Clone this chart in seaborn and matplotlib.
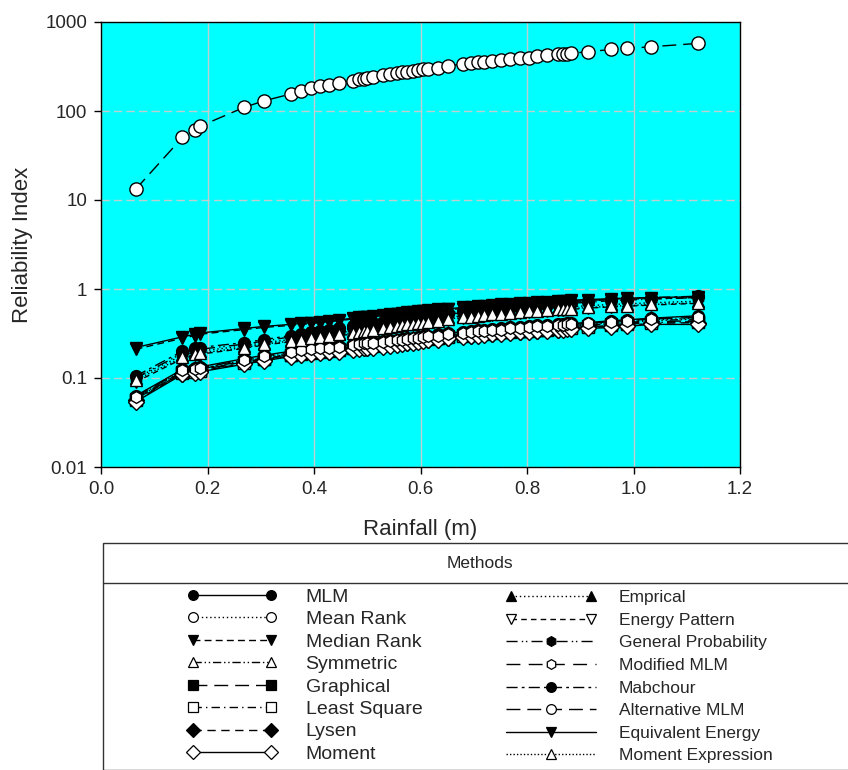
import matplotlib
matplotlib.use("Agg")
import matplotlib.pyplot as plt
from matplotlib.lines import Line2D
from matplotlib.patches import Rectangle
from matplotlib.legend_handler import HandlerLine2D
from matplotlib.ticker import FixedLocator, FixedFormatter, NullLocator
import seaborn as sns
import pandas as pd

rainfall = [0.065, 0.153, 0.177, 0.185, 0.269, 0.306, 0.356, 0.375, 0.395, 0.412,
            0.428, 0.447, 0.473, 0.485, 0.493, 0.500, 0.510, 0.530, 0.542, 0.556,
            0.565, 0.575, 0.585, 0.595, 0.605, 0.615, 0.632, 0.652, 0.679, 0.695,
            0.708, 0.720, 0.735, 0.752, 0.768, 0.787, 0.803, 0.819, 0.838, 0.858,
            0.868, 0.876, 0.882, 0.915, 0.958, 0.987, 1.033, 1.121]

mlm = [0.063, 0.125, 0.13, 0.133, 0.165, 0.18, 0.20, 0.21, 0.215, 0.22, 0.225, 0.23, 0.24, 0.245, 0.25, 0.25,
       0.255, 0.26, 0.265, 0.27, 0.275, 0.28, 0.285, 0.29, 0.295, 0.30, 0.31, 0.32, 0.33, 0.34, 0.345, 0.35,
       0.355, 0.36, 0.37, 0.375, 0.38, 0.39, 0.395, 0.40, 0.405, 0.41, 0.41, 0.42, 0.44, 0.45, 0.47, 0.50]
mean_rank = [0.060, 0.12, 0.125, 0.128, 0.158, 0.172, 0.19, 0.20, 0.205, 0.21, 0.215, 0.22, 0.23, 0.235, 0.24, 0.24,
             0.245, 0.25, 0.255, 0.26, 0.265, 0.27, 0.275, 0.28, 0.285, 0.29, 0.295, 0.305, 0.315, 0.32, 0.325, 0.33,
             0.335, 0.345, 0.35, 0.355, 0.36, 0.37, 0.375, 0.38, 0.385, 0.39, 0.39, 0.40, 0.42, 0.43, 0.45, 0.47]
median_rank = [0.21, 0.28, 0.30, 0.31, 0.35, 0.37, 0.39, 0.40, 0.41, 0.42, 0.43, 0.44, 0.46, 0.47, 0.47, 0.48,
               0.49, 0.50, 0.51, 0.52, 0.53, 0.53, 0.54, 0.55, 0.56, 0.56, 0.57, 0.59, 0.60, 0.61, 0.62, 0.63,
               0.64, 0.65, 0.66, 0.67, 0.68, 0.69, 0.70, 0.71, 0.72, 0.72, 0.73, 0.74, 0.76, 0.77, 0.78, 0.80]
symmetric = [0.059, 0.118, 0.123, 0.126, 0.155, 0.168, 0.187, 0.195, 0.20, 0.205, 0.21, 0.215, 0.225, 0.23, 0.235, 0.235,
             0.24, 0.245, 0.25, 0.255, 0.26, 0.265, 0.27, 0.275, 0.28, 0.285, 0.29, 0.30, 0.31, 0.315, 0.32, 0.325,
             0.33, 0.34, 0.345, 0.35, 0.355, 0.36, 0.365, 0.37, 0.375, 0.38, 0.38, 0.39, 0.41, 0.42, 0.44, 0.46]
graphical = [0.058, 0.116, 0.12, 0.123, 0.152, 0.165, 0.183, 0.19, 0.195, 0.20, 0.205, 0.21, 0.22, 0.225, 0.23, 0.23,
             0.235, 0.24, 0.245, 0.25, 0.255, 0.26, 0.265, 0.27, 0.275, 0.28, 0.285, 0.295, 0.305, 0.31, 0.315, 0.32,
             0.325, 0.33, 0.335, 0.34, 0.345, 0.35, 0.355, 0.36, 0.365, 0.37, 0.37, 0.38, 0.40, 0.41, 0.43, 0.44]
least_square = [0.057, 0.114, 0.118, 0.121, 0.149, 0.162, 0.18, 0.187, 0.192, 0.197, 0.20, 0.205, 0.215, 0.22, 0.225, 0.225,
                0.23, 0.235, 0.24, 0.245, 0.25, 0.255, 0.26, 0.265, 0.27, 0.275, 0.28, 0.29, 0.30, 0.305, 0.31, 0.315,
                0.32, 0.325, 0.33, 0.335, 0.34, 0.345, 0.35, 0.355, 0.36, 0.365, 0.365, 0.375, 0.39, 0.40, 0.42, 0.43]
lysen = [0.056, 0.112, 0.116, 0.119, 0.146, 0.159, 0.177, 0.184, 0.189, 0.194, 0.197, 0.20, 0.21, 0.215, 0.22, 0.22,
         0.225, 0.23, 0.235, 0.24, 0.245, 0.25, 0.255, 0.26, 0.265, 0.27, 0.275, 0.285, 0.295, 0.30, 0.305, 0.31,
         0.315, 0.32, 0.325, 0.33, 0.335, 0.34, 0.345, 0.35, 0.355, 0.36, 0.36, 0.37, 0.38, 0.39, 0.41, 0.42]
moment = [0.054, 0.11, 0.114, 0.117, 0.143, 0.156, 0.174, 0.181, 0.186, 0.19, 0.194, 0.197, 0.205, 0.21, 0.215, 0.215,
          0.22, 0.225, 0.23, 0.235, 0.24, 0.245, 0.25, 0.255, 0.26, 0.265, 0.27, 0.28, 0.29, 0.295, 0.30, 0.305,
          0.31, 0.315, 0.32, 0.325, 0.33, 0.335, 0.34, 0.345, 0.35, 0.355, 0.355, 0.36, 0.37, 0.38, 0.40, 0.40]
emprical = [0.10, 0.18, 0.195, 0.20, 0.23, 0.25, 0.27, 0.28, 0.29, 0.30, 0.31, 0.32, 0.34, 0.35, 0.35, 0.36,
            0.37, 0.38, 0.39, 0.40, 0.41, 0.42, 0.42, 0.43, 0.44, 0.45, 0.46, 0.48, 0.50, 0.51, 0.52, 0.53,
            0.54, 0.55, 0.56, 0.57, 0.58, 0.59, 0.60, 0.61, 0.62, 0.63, 0.63, 0.65, 0.67, 0.68, 0.70, 0.73]
energy_pattern = [0.09, 0.165, 0.18, 0.185, 0.215, 0.235, 0.255, 0.265, 0.27, 0.28, 0.29, 0.30, 0.31, 0.32, 0.33, 0.33,
                  0.34, 0.35, 0.36, 0.37, 0.38, 0.38, 0.39, 0.40, 0.41, 0.42, 0.43, 0.45, 0.47, 0.48, 0.49, 0.50,
                  0.51, 0.52, 0.53, 0.54, 0.55, 0.56, 0.57, 0.58, 0.58, 0.59, 0.59, 0.61, 0.63, 0.64, 0.66, 0.69]
general_probability = [0.10, 0.19, 0.205, 0.21, 0.24, 0.26, 0.29, 0.30, 0.31, 0.32, 0.33, 0.34, 0.36, 0.37, 0.38, 0.39,
                       0.40, 0.41, 0.42, 0.43, 0.44, 0.45, 0.46, 0.47, 0.48, 0.49, 0.50, 0.52, 0.54, 0.55, 0.56, 0.57,
                       0.58, 0.60, 0.61, 0.62, 0.63, 0.64, 0.66, 0.67, 0.68, 0.69, 0.69, 0.71, 0.74, 0.75, 0.77, 0.80]
modified_mlm = [0.061, 0.122, 0.127, 0.13, 0.16, 0.175, 0.195, 0.205, 0.21, 0.215, 0.22, 0.225, 0.235, 0.24, 0.245, 0.245,
                0.25, 0.255, 0.26, 0.265, 0.27, 0.275, 0.28, 0.285, 0.29, 0.295, 0.30, 0.31, 0.32, 0.33, 0.335, 0.34,
                0.345, 0.35, 0.36, 0.365, 0.37, 0.38, 0.385, 0.39, 0.395, 0.40, 0.40, 0.41, 0.43, 0.44, 0.46, 0.48]
mabchour = [0.105, 0.20, 0.215, 0.22, 0.25, 0.27, 0.30, 0.31, 0.33, 0.34, 0.35, 0.36, 0.38, 0.39, 0.40, 0.41,
            0.42, 0.43, 0.44, 0.45, 0.46, 0.47, 0.48, 0.49, 0.50, 0.51, 0.52, 0.54, 0.56, 0.57, 0.58, 0.59,
            0.60, 0.62, 0.63, 0.65, 0.66, 0.67, 0.69, 0.70, 0.71, 0.72, 0.72, 0.74, 0.77, 0.78, 0.80, 0.83]
alternative_mlm = [13.2, 50.5, 61.5, 67, 110, 130, 155, 168, 180, 190, 198, 207, 220, 226, 231, 235,
                   242, 252, 259, 266, 271, 276, 282, 287, 293, 298, 308, 322, 336, 345, 352, 358,
                   366, 374, 381, 389, 399, 410, 421, 432, 437, 441, 445, 463, 492, 505, 527, 575]
equivalent_energy = [0.22, 0.29, 0.31, 0.32, 0.36, 0.38, 0.40, 0.41, 0.42, 0.43, 0.44, 0.45, 0.47, 0.48, 0.48, 0.49,
                     0.50, 0.51, 0.52, 0.53, 0.54, 0.55, 0.55, 0.56, 0.57, 0.58, 0.59, 0.60, 0.62, 0.63, 0.64, 0.65,
                     0.66, 0.67, 0.68, 0.69, 0.70, 0.71, 0.72, 0.73, 0.74, 0.74, 0.75, 0.76, 0.78, 0.79, 0.80, 0.82]
moment_expression = [0.095, 0.17, 0.185, 0.19, 0.22, 0.24, 0.26, 0.27, 0.28, 0.29, 0.30, 0.31, 0.32, 0.33, 0.34, 0.34,
                     0.35, 0.36, 0.37, 0.38, 0.39, 0.40, 0.40, 0.41, 0.42, 0.43, 0.44, 0.46, 0.48, 0.49, 0.50, 0.51,
                     0.52, 0.53, 0.54, 0.55, 0.56, 0.57, 0.58, 0.59, 0.59, 0.60, 0.60, 0.62, 0.64, 0.65, 0.67, 0.70]

method_names = ["MLM", "Mean Rank", "Median Rank", "Symmetric", "Graphical", "Least Square", "Lysen", "Moment",
                "Emprical", "Energy Pattern", "General Probability", "Modified MLM", "Mabchour",
                "Alternative MLM", "Equivalent Energy", "Moment Expression"]
method_values = [mlm, mean_rank, median_rank, symmetric, graphical, least_square, lysen, moment,
                 emprical, energy_pattern, general_probability, modified_mlm, mabchour,
                 alternative_mlm, equivalent_energy, moment_expression]

y_ticks = [0.01, 0.1, 1, 10, 100, 1000]
y_tick_labels = ["0.01", "0.1", "1", "10", "100", "1000"]
x_ticks = [0.0, 0.2, 0.4, 0.6, 0.8, 1.0, 1.2]
x_tick_labels = ["0.0", "0.2", "0.4", "0.6", "0.8", "1.0", "1.2"]

# style: (marker, filled, dashes)
styles = {
    "MLM": ("o", True, (None, None)),
    "Mean Rank": ("o", False, (1, 2)),
    "Median Rank": ("v", True, (5, 3)),
    "Symmetric": ("^", False, (6, 2, 1, 2, 1, 2)),
    "Graphical": ("s", True, (10, 5)),
    "Least Square": ("s", False, (6, 3, 1, 3)),
    "Lysen": ("D", True, (6, 4)),
    "Moment": ("D", False, (None, None)),
    "Emprical": ("^", True, (1, 2)),
    "Energy Pattern": ("v", False, (4, 3)),
    "General Probability": ("h", True, (8, 3, 1, 2, 1, 3)),
    "Modified MLM": ("h", False, (10, 6)),
    "Mabchour": ("o", True, (8, 3, 2, 3)),
    "Alternative MLM": ("o", False, (10, 5)),
    "Equivalent Energy": ("v", True, (None, None)),
    "Moment Expression": ("^", False, (1, 1.5)),
}

for n, v in zip(method_names, method_values):
    assert len(v) == len(rainfall), (n, len(v))

rows = []
for n, v in zip(method_names, method_values):
    for x, y in zip(rainfall, v):
        rows.append({"Rainfall": x, "Reliability": y, "Method": n})
df = pd.DataFrame(rows)

sns.set_theme(style="white")
plt.rcParams["font.family"] = ["Liberation Sans", "DejaVu Sans"]

fig = plt.figure(figsize=(8.48, 7.70), dpi=100)
ax = fig.add_axes([101 / 848, 1 - 467 / 770, (740 - 101) / 848, (467 - 22) / 770])
ax.set_facecolor("#00FFFF")

handles = {}
for n in method_names:
    mk, filled, dash = styles[n]
    ms = 9.5 if n == "Alternative MLM" else 8.5
    sub = df[df["Method"] == n]
    kw = dict(color="black", marker=mk, markersize=ms, markerfacecolor="black" if filled else "white",
              markeredgecolor="black", markeredgewidth=1.0, linewidth=1.0)
    if dash[0] is not None:
        kw["dashes"] = dash
    sns.lineplot(data=sub, x="Rainfall", y="Reliability", ax=ax, estimator=None, sort=True,
                 legend=False, **kw)
    hk = dict(color="black", marker=mk, markersize=7, markerfacecolor="black" if filled else "white",
              markeredgecolor="black", markeredgewidth=0.9, linewidth=1.0)
    if dash[0] is not None:
        hk["dashes"] = dash
    handles[n] = Line2D([], [], **hk)

ax.set_yscale("log")
ax.set_xlim(0, 1.2)
ax.set_ylim(0.01, 1000)
ax.yaxis.set_major_locator(FixedLocator(y_ticks))
ax.yaxis.set_major_formatter(FixedFormatter(y_tick_labels))
ax.yaxis.set_minor_locator(NullLocator())
ax.xaxis.set_major_locator(FixedLocator(x_ticks))
ax.xaxis.set_major_formatter(FixedFormatter(x_tick_labels))

ax.xaxis.grid(True, color="#bfcfcf", linewidth=1.0, linestyle="-")
ax.yaxis.grid(True, color="#bfcfcf", linewidth=1.0, linestyle=(0, (6, 3)))
ax.set_axisbelow(True)
for s in ax.spines.values():
    s.set_color("black")
    s.set_linewidth(1.0)
ax.tick_params(axis="both", which="major", direction="out", length=5, width=1, color="black",
               labelsize=13.5, bottom=True, left=True, top=False, right=False, pad=5)
ax.set_xlabel("Rainfall (m)", fontsize=16, labelpad=15)
ax.set_ylabel("Reliability Index", fontsize=16, labelpad=9)

# legend box
rect = Rectangle((103 / 848, 0), 1.0, (770 - 543) / 770, transform=fig.transFigure,
                 facecolor="white", edgecolor="#333333", linewidth=1.0, clip_on=False)
fig.patches.append(rect)
fig.add_artist(Line2D([103 / 848, 1.0], [1 - 583 / 770, 1 - 583 / 770], transform=fig.transFigure,
                      color="#333333", linewidth=1.0))
fig.text(480 / 848, 1 - 563 / 770, "Methods", ha="center", va="center", fontsize=12.5)

col1 = method_names[:8]
col2 = method_names[8:]
leg1 = fig.legend([handles[n] for n in col1], col1, loc="upper left",
                  bbox_to_anchor=(187 / 848, 1 - 588 / 770), frameon=False, fontsize=14,
                  handlelength=4.6, handletextpad=1.5, labelspacing=0.25, borderpad=0, borderaxespad=0,
                  handler_map={h: HandlerLine2D(numpoints=2) for h in [handles[n] for n in col1]})
hmap2 = {}
for n in col2:
    hmap2[handles[n]] = HandlerLine2D(numpoints=2 if n in ("Emprical", "Energy Pattern") else 1)
leg2 = fig.legend([handles[n] for n in col2], col2, loc="upper left",
                  bbox_to_anchor=(506 / 848, 1 - 590 / 770), frameon=False, fontsize=12.5,
                  handlelength=5.2, handletextpad=1.3, labelspacing=0.43, borderpad=0, borderaxespad=0,
                  handler_map=hmap2)

fig.savefig("out.png", dpi=100)
